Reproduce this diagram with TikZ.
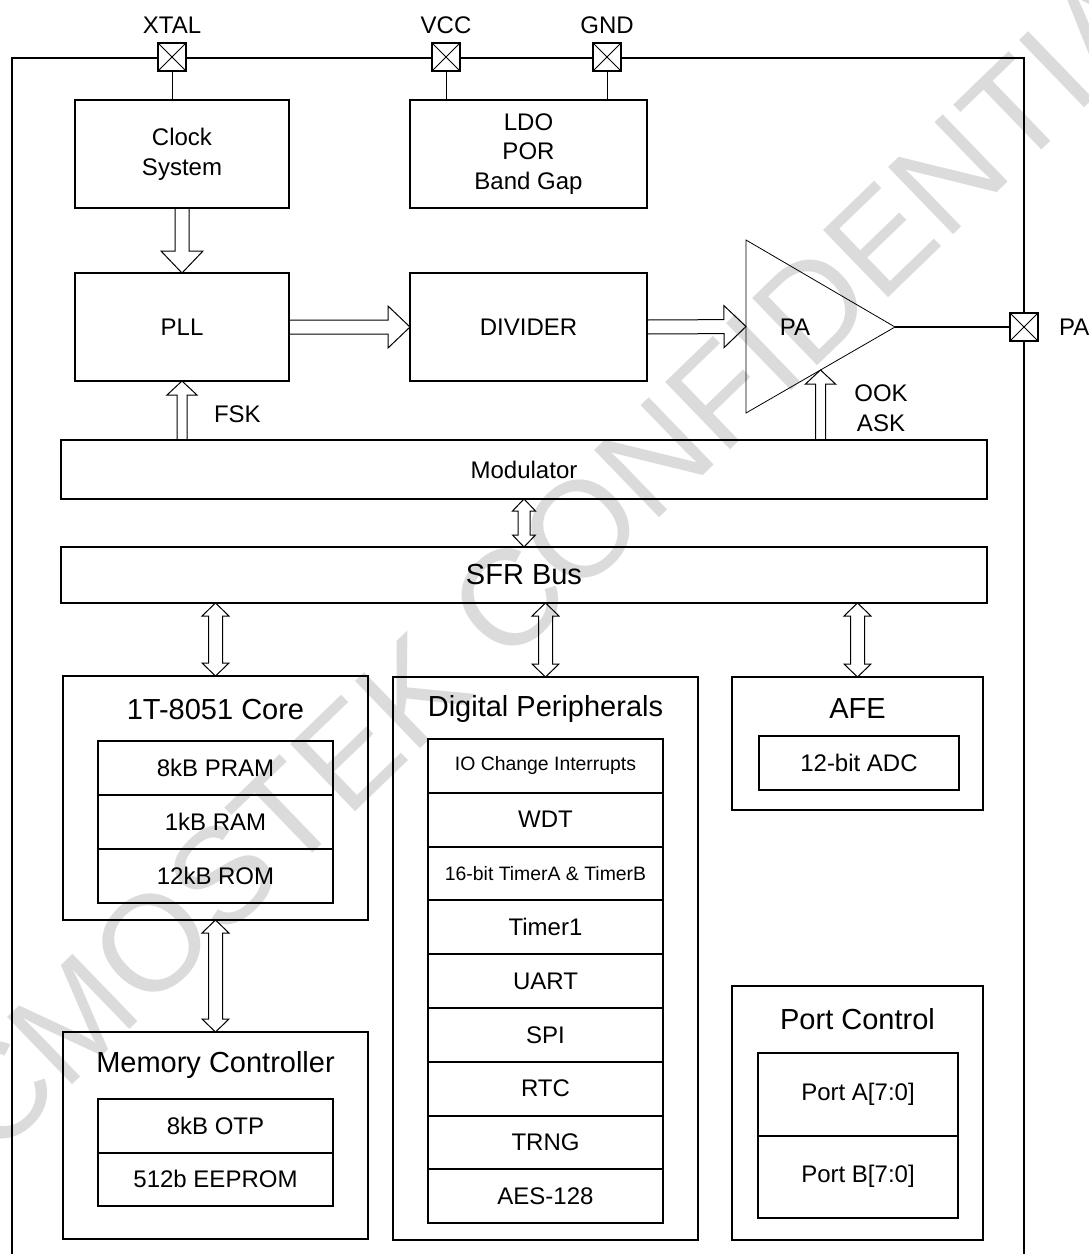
\documentclass[tikz,border=0pt]{standalone}
\usepackage{fontspec}
\setmainfont{Liberation Sans}
\usetikzlibrary{positioning,calc}

\newcommand{\fs}[2]{\fontsize{#1}{#2}\selectfont}

% hollow block arrow from #1 to #2: half shaft, half head, head length
\newcommand{\sarr}[5]{%
  \draw[arr] ($(#1)!#3!90:(#2)$) -- ($(#2)!#5!(#1)!#3!90:(#2)$)
    -- ($(#2)!#5!(#1)!#4!90:(#2)$) -- (#2)
    -- ($(#2)!#5!(#1)!#4!-90:(#2)$) -- ($(#2)!#5!(#1)!#3!-90:(#2)$)
    -- ($(#1)!#3!-90:(#2)$);}
% same, with a head at both ends
\newcommand{\darr}[5]{%
  \draw[arr] (#1) -- ($(#1)!#5!(#2)!#4!90:(#2)$) -- ($(#1)!#5!(#2)!#3!90:(#2)$)
    -- ($(#2)!#5!(#1)!#3!90:(#2)$) -- ($(#2)!#5!(#1)!#4!90:(#2)$) -- (#2)
    -- ($(#2)!#5!(#1)!#4!-90:(#2)$) -- ($(#2)!#5!(#1)!#3!-90:(#2)$)
    -- ($(#1)!#5!(#2)!#3!-90:(#2)$) -- ($(#1)!#5!(#2)!#4!-90:(#2)$) -- cycle;}

\tikzset{
  box/.style={draw, line width=1pt, inner sep=0pt, outer sep=0pt, align=center, font=\fs{12}{15}},
  row/.style={box, minimum width=117.5pt, minimum height=#1},
  row/.default=27pt,
  ttl/.style={font=\fs{14.5}{17}},
  lbl/.style={font=\fs{12}{15}, align=center},
  pin/.style={draw, line width=1pt, fill=white, minimum size=14pt, inner sep=0pt,
    path picture={\draw[line width=0.5pt] (path picture bounding box.north west) -- (path picture bounding box.south east)
      (path picture bounding box.north east) -- (path picture bounding box.south west);}},
  arr/.style={line width=0.5pt, line join=miter},
  wire/.style={line width=0.5pt},
}

\begin{document}
\begin{tikzpicture}[x=0.5pt, y=-0.5pt]
\useasboundingbox (0,0) rectangle (1088,1254);

% watermark
\node[rotate=44, text=black!14, font=\fs{68}{80}] (wm) at (576,534) {CMOSTEK CONFIDENTIAL};

% chip outline and pads
\draw[line width=1pt] (12,1254) |- (1024,58) -- (1024,1254);
\node[pin] (xtal) at (172,57) {};
\node[pin] (vcc) at (446,57) {};
\node[pin] (gnd) at (607,57) {};
\node[pin] (papin) at (1024,327) {};
\node[lbl] at (172,25) {XTAL};
\node[lbl] at (446,25) {VCC};
\node[lbl] at (607,25) {GND};
\node[lbl, anchor=west] at (1052,327) {PA};

% RF part
\node[box, minimum width=107pt, minimum height=54pt] (clk) at (182,154) {Clock\\System};
\node[box, minimum width=118.5pt, minimum height=54pt, font=\fs{12}{14.75}] (ldo) at (528.5,154) {LDO\\POR\\Band Gap};
\node[box, minimum width=107pt, minimum height=54pt] (pll) at (182,327) {PLL};
\node[box, minimum width=118.5pt, minimum height=54pt] (div) at (528.5,327) {DIVIDER};
\coordinate (pat) at (746,240);
\coordinate (pab) at (746,413);
\coordinate (patip) at (895,327);
\draw[line width=0.4pt] (pat) -- (patip) -- (pab) -- cycle;
\node[lbl] (pa) at (795,327) {PA};
\coordinate (pain) at ($(pat)!0.5!(pab)$);
\coordinate (ooktop) at ($(pab)!0.5!(patip)$);

\draw[wire] (xtal.south) -- (xtal.south |- clk.north);
\draw[wire] (vcc.south) -- (vcc.south |- ldo.north);
\draw[wire] (gnd.south) -- (gnd.south |- ldo.north);
\draw[line width=0.9pt] (patip) -- (papin.west);

% buses
\node[box, minimum width=463pt, minimum height=29.5pt] (mod) at (524,469.5) {Modulator};
\node[box, minimum width=463pt, minimum height=28pt, font=\fs{14.5}{17}] (sfr) at (524,575) {SFR Bus};

\sarr{clk.south}{pll.north}{3.5pt}{10.5pt}{11pt}
\sarr{pll.east}{div.west}{3.5pt}{10.5pt}{11pt}
\sarr{div.east}{pain}{3.5pt}{10.5pt}{11pt}
\coordinate (fsk) at (mod.north -| pll.south);
\sarr{fsk}{pll.south}{2.5pt}{7.5pt}{7pt}
\coordinate (ook) at (mod.north -| ooktop);
\sarr{ook}{ooktop}{2.5pt}{7.5pt}{7pt}
\node[lbl, anchor=west] at (207,414) {FSK};
\node[lbl, font=\fs{12}{15}] at (881,408) {OOK\\ASK};

% core and memory
\node[box, minimum width=152.5pt, minimum height=122pt] (core) at (215.5,798) {};
\node[ttl] at (215.5,710) {1T-8051 Core};
\node[row] (pram) at (215.5,768) {8kB PRAM};
\node[row, below=0pt of pram] (ram) {1kB RAM};
\node[row, below=0pt of ram] (rom) {12kB ROM};

\node[box, minimum width=152.5pt, minimum height=103.5pt] (mem) at (215.5,1135.5) {};
\node[ttl] at (215.5,1065) {Memory Controller};
\node[row=26.75pt] (otp) at (215.5,1125.75) {8kB OTP};
\node[row=26.75pt, below=0pt of otp] (eep) {512b EEPROM};

% digital peripherals
\node[box, minimum width=152.5pt, minimum height=281.5pt] (dp) at (545.5,958.5) {};
\node[ttl] at (545.5,709) {Digital Peripherals};
\node[row=26.9pt, font=\fs{9.7}{12}] (ioc) at (545.5,765.9) {IO Change Interrupts};
\node[row=26.9pt, below=0pt of ioc] (wdt) {WDT};
\node[row=26.9pt, below=0pt of wdt, font=\fs{9.7}{12}] (tab) {16-bit TimerA \& TimerB};
\node[row=26.9pt, below=0pt of tab] (tmr) {Timer1};
\node[row=26.9pt, below=0pt of tmr] (uart) {UART};
\node[row=26.9pt, below=0pt of uart] (spi) {SPI};
\node[row=26.9pt, below=0pt of spi] (rtc) {RTC};
\node[row=26.9pt, below=0pt of rtc] (trng) {TRNG};
\node[row=26.9pt, below=0pt of trng] (aes) {AES-128};

% analog front end and ports
\node[box, minimum width=125.5pt, minimum height=66.5pt] (afe) at (857.5,743.5) {};
\node[ttl] at (857.5,709) {AFE};
\node[box, minimum width=100pt, minimum height=27pt] (adc) at (859,763) {12-bit ADC};

\node[box, minimum width=125.5pt, minimum height=127pt] (port) at (857.5,1113) {};
\node[ttl] at (857.5,1019) {Port Control};
\node[box, minimum width=100pt, minimum height=41.25pt] (pta) at (858,1094.25) {Port A[7:0]};
\node[box, minimum width=100pt, minimum height=41.25pt, below=0pt of pta] (ptb) {Port B[7:0]};

% bus links
\darr{mod.south}{sfr.north}{3pt}{5.75pt}{6pt}
\coordinate (s1) at (sfr.south -| core.north);
\coordinate (s2) at (sfr.south -| dp.north);
\coordinate (s3) at (sfr.south -| afe.north);
\darr{s1}{core.north}{3.5pt}{6.75pt}{6.5pt}
\darr{s2}{dp.north}{3.5pt}{6.75pt}{6.5pt}
\darr{s3}{afe.north}{3.5pt}{6.75pt}{6.5pt}
\darr{core.south}{mem.north}{3.5pt}{6.75pt}{6.5pt}
\end{tikzpicture}
\end{document}
